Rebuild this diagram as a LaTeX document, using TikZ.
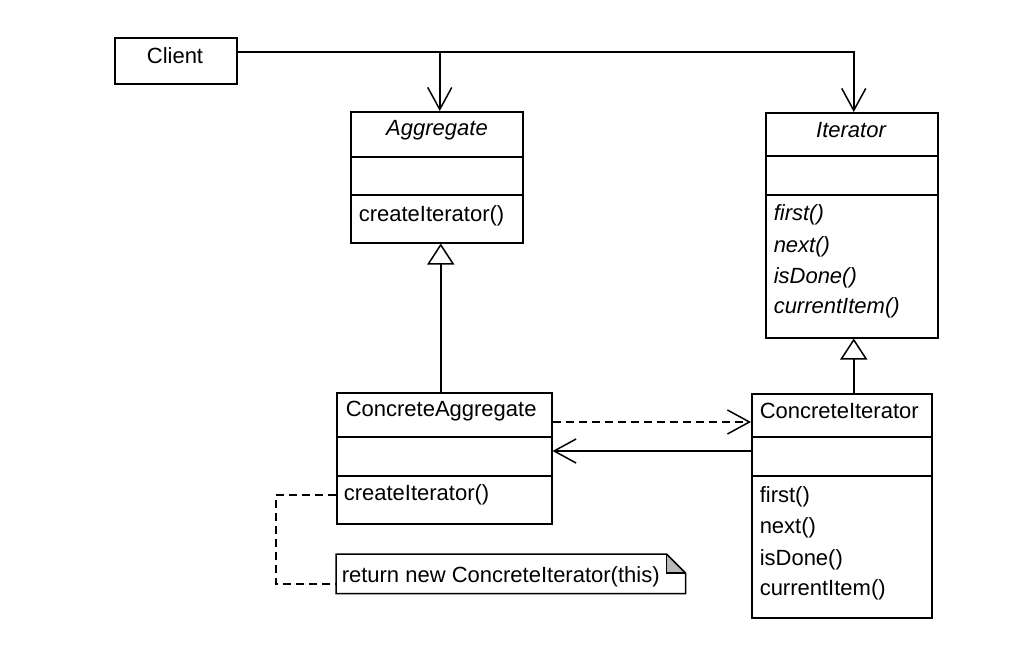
\documentclass[tikz,border=0pt]{standalone}
\usepackage{fontspec}
\setmainfont{Liberation Sans}
\usetikzlibrary{arrows.meta}
\newcommand{\umlsize}{\fontsize{22}{26}\selectfont}
\tikzset{
  umlbox/.style={draw, line width=1.5pt, inner sep=0pt, anchor=north west},
  umlsep/.style={line width=2.8pt},
  umltext/.style={inner sep=0pt, font=\umlsize},
  assoc/.style={line width=1.5pt, -{Straight Barb[length=22pt, width=24pt, line width=1.5pt]}},
  depend/.style={assoc, dash pattern=on 8pt off 5pt},
  generalize/.style={line width=1.5pt, -{Triangle[open, length=21pt, width=27pt, line width=1.5pt, fill=white]}},
  notelink/.style={line width=1.5pt, dash pattern=on 8pt off 5pt},
}
\begin{document}
\begin{tikzpicture}[x=1pt, y=-1pt, line width=1.5pt]
\useasboundingbox (0,0) rectangle (1034,648);

% Client
\node[umlbox, minimum width=122pt, minimum height=46pt] (client) at (114,37) {};
\node[umltext] (clientname) at (175,56) {Client};

% Aggregate
\node[umlbox, minimum width=172pt, minimum height=131pt] (agg) at (350,111) {};
\draw[umlsep] ([yshift=-46pt]agg.north west) -- ([yshift=-46pt]agg.north east);
\draw[umlsep] ([yshift=-84pt]agg.north west) -- ([yshift=-84pt]agg.north east);
\node[umltext] (aggname) at (437,130) {\itshape Aggregate};
\node[umltext, anchor=west] (aggop) at (358,216) {createIterator()};

% Iterator
\node[umlbox, minimum width=172pt, minimum height=225pt] (iter) at (765,112) {};
\draw[umlsep] ([yshift=-44pt]iter.north west) -- ([yshift=-44pt]iter.north east);
\draw[umlsep] ([yshift=-83pt]iter.north west) -- ([yshift=-83pt]iter.north east);
\node[umltext] (itername) at (851,130) {\itshape Iterator};
\node[umltext, anchor=west] (iterop1) at (773,215) {\itshape first()};
\node[umltext, anchor=west] (iterop2) at (773,247) {\itshape next()};
\node[umltext, anchor=west] (iterop3) at (773,278) {\itshape isDone()};
\node[umltext, anchor=west] (iterop4) at (773,308) {\itshape currentItem()};

% ConcreteAggregate
\node[umlbox, minimum width=215pt, minimum height=131pt] (ca) at (336,392) {};
\draw[umlsep] ([yshift=-45pt]ca.north west) -- ([yshift=-45pt]ca.north east);
\draw[umlsep] ([yshift=-84pt]ca.north west) -- ([yshift=-84pt]ca.north east);
\node[umltext, anchor=west] (caname) at (345,411) {ConcreteAggregate};
\node[umltext, anchor=west] (caop) at (343,495) {createIterator()};

% ConcreteIterator
\node[umlbox, minimum width=180pt, minimum height=224pt] (ci) at (751,393) {};
\draw[umlsep] ([yshift=-44pt]ci.north west) -- ([yshift=-44pt]ci.north east);
\draw[umlsep] ([yshift=-83pt]ci.north west) -- ([yshift=-83pt]ci.north east);
\node[umltext, anchor=west] (ciname) at (759,411) {ConcreteIterator};
\node[umltext, anchor=west] (ciop1) at (759,497) {first()};
\node[umltext, anchor=west] (ciop2) at (759,528) {next()};
\node[umltext, anchor=west] (ciop3) at (759,560) {isDone()};
\node[umltext, anchor=west] (ciop4) at (759,590) {currentItem()};

% Note with folded corner
\node[inner sep=0pt, minimum width=348pt, minimum height=38pt, anchor=north west] (note) at (336,554) {};
\fill[gray!55] ([xshift=-19pt]note.north east) -- ++(0pt,-19pt) -- ++(19pt,0pt) -- cycle;
\draw (note.north west) -- ([xshift=-19pt]note.north east) -- ([yshift=-19pt]note.north east)
      -- (note.south east) -- (note.south west) -- cycle;
\draw ([xshift=-19pt]note.north east) -- ++(0pt,-19pt) -- ++(19pt,0pt);
\node[umltext, anchor=west] (notetext) at (341,577) {return new ConcreteIterator(this)};

% Connectors
\draw[assoc] ([yshift=-15pt]client.north east) -| ([xshift=3pt]agg.north);
\draw[assoc] ([yshift=-15pt]client.north east) -| ([xshift=2pt]iter.north);
\draw[generalize] ([xshift=-3.5pt]ca.north) -- ([xshift=4pt]agg.south);
\draw[generalize] ([xshift=12pt]ci.north) -- ([xshift=2pt]iter.south);
\draw[depend] ([yshift=-30pt]ca.north east) -- ([yshift=-29pt]ci.north west);
\draw[assoc] ([yshift=-58pt]ci.north west) -- ([yshift=-59pt]ca.north east);
\draw[notelink] ([yshift=-103pt]ca.north west) -- ++(-60pt,0pt) |- ([yshift=-10pt]note.west);
\end{tikzpicture}
\end{document}
